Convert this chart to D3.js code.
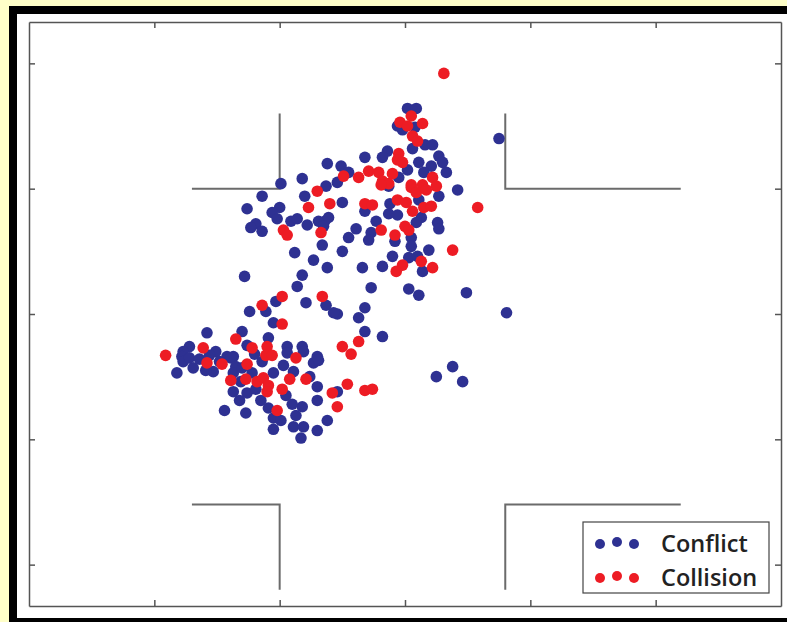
<!DOCTYPE html>
<meta charset="utf-8">
<style>
body { margin: 0; background: #ffffc8; }
svg { display: block; }
.axis path, .axis line { stroke: #555; stroke-width: 1.5px; }
.legend text { font-family: "Open Sans", sans-serif; font-weight: 600; font-size: 23.5px; fill: #222; }
</style>
<svg width="787" height="622"></svg>
<script src="https://d3js.org/d3.v7.min.js"></script>
<script>

// conflict points, [x, y] in metres from intersection centre
var conflict = [
  [0.2,16.4],[0.9,16.4],[7.5,14.0],[-0.6,15.0],[-0.2,14.7],[0.8,14.9],[1.6,13.5],[2.2,13.5],
  [0.6,13.2],[-1.4,13.0],[-1.8,12.5],[-3.2,12.5],[1.1,12.1],[2.1,11.8],[2.7,12.6],[3.0,12.1],
  [3.3,11.3],[1.5,11.3],[0.2,11.5],[-5.1,11.8],[-4.5,11.3],[-0.5,10.9],[4.2,9.9],[-1.3,10.2],
  [2.7,9.4],[-5.0,8.9],[-3.2,8.2],[-1.2,8.8],[1.1,9.1],[-1.3,8.0],[-0.6,7.9],[-2.3,7.4],
  [1.3,7.7],[0.9,7.3],[2.6,7.3],[2.7,6.8],[-3.9,6.8],[-4.5,6.1],[-2.7,6.5],[-2.9,5.9],
  [-0.8,5.8],[0.5,6.1],[0.5,5.4],[-5.0,5.0],[1.9,5.1],[-1.0,4.6],[0.3,4.5],[1.0,4.6],
  [-3.4,3.7],[-1.8,3.8],[1.4,3.4],[-2.7,2.1],[0.3,2.0],[1.1,1.5],[4.9,1.7],[-3.2,0.5],
  [8.1,0.1],[-3.7,-0.3],[-3.2,-1.4],[-1.8,-1.8],[-5.4,0.0],[3.8,-4.2],[2.5,-5.0],[4.6,-5.4],
  [-5.4,-6.2],[-6.2,12.0],[-8.2,10.8],[-9.9,10.4],[-6.3,10.2],[-5.4,10.5],[-11.4,9.4],[-8.0,9.4],
  [-12.6,8.4],[-10.0,8.5],[-10.6,8.1],[-10.2,7.6],[-9.1,7.4],[-8.6,7.6],[-7.8,7.1],[-6.9,7.4],
  [-6.4,7.4],[-6.1,7.7],[-6.5,7.0],[-11.9,7.2],[-12.3,6.9],[-11.4,6.6],[-6.6,5.5],[-8.8,4.9],
  [-7.3,4.3],[-6.2,3.7],[-12.8,3.0],[-8.2,3.1],[-8.6,2.2],[-10.3,1.0],[-11.1,0.2],[-12.4,0.2],
  [-6.3,0.7],[-7.9,0.9],[-5.7,0.1],[-10.5,-0.7],[-13.0,-1.4],[-15.8,-1.5],[-10.9,-1.9],[-12.6,-2.5],
  [-9.4,-2.6],[-9.4,-3.1],[-8.2,-2.6],[-8.1,-3.0],[-17.2,-2.6],[-15.1,-3.0],[-15.6,-3.3],[-17.7,-3.0],
  [-17.8,-3.4],[-14.2,-3.4],[-13.7,-3.4],[-7.0,-3.4],[-17.7,-3.8],[-18.2,-4.7],[-16.9,-4.3],[-17.2,-3.5],
  [-15.3,-4.6],[-15.9,-4.5],[-13.9,-3.5],[-13.5,-4.2],[-13.7,-4.7],[-13.0,-4.3],[-13.1,-5.4],[-13.7,-6.2],
  [-12.6,-6.3],[-13.2,-6.9],[-14.4,-7.7],[-12.7,-7.9],[-11.4,-3.8],[-12.2,-4.7],[-10.5,-4.7],[-11.5,-6.9],
  [-9.7,-4.1],[-8.9,-4.6],[-9.5,-6.5],[-7.6,-5.0],[-7.0,-5.8],[-7.3,-3.9],[-6.9,-3.7],[-8.2,-7.4],
  [-10.9,-7.5],[-10.5,-8.3],[-9.9,-8.5],[-10.5,-9.2],[-8.7,-8.1],[-8.9,-9.0],[-8.1,-9.0],[-8.3,-9.9],
  [-7.0,-9.3],[-6.2,-8.5],[-7.0,-6.9],[-14.8,-3.8],[-16.4,-3.6],[-12.0,-3.2],[-11.9,-6.0],[-9.0,-7.2]
];

// collision points
var collision = [
  [3.1,19.2],[-0.4,15.3],[0.5,15.8],[0.2,15.0],[1.4,15.2],[0.6,14.2],[1.0,13.8],[-0.5,12.8],
  [-0.6,12.3],[-0.2,12.1],[-4.9,11.0],[-3.7,10.9],[-2.9,11.4],[-2.1,11.3],[-1.8,10.6],[-1.3,10.4],
  [-1.0,11.2],[0.5,10.3],[1.4,10.3],[2.2,10.9],[2.5,10.2],[-1.9,10.3],[0.5,10.1],[0.9,9.7],
  [1.7,9.9],[-3.2,8.8],[-2.6,8.7],[-0.6,9.1],[0.1,8.9],[0.6,8.2],[1.5,8.5],[2.1,8.6],
  [5.8,8.5],[-1.9,6.7],[0.0,7.0],[0.3,6.7],[-0.8,6.3],[3.8,5.1],[1.3,4.2],[-0.2,3.9],
  [-0.7,3.4],[2.2,3.7],[-3.7,-2.2],[-5.0,-2.6],[-4.3,-3.2],[-4.6,-5.6],[-3.2,-6.1],[-2.6,-6.0],
  [-5.4,-7.4],[-7.0,9.8],[-6.0,8.8],[-7.7,8.5],[-9.7,6.7],[-9.4,6.3],[-6.7,6.5],[-9.8,1.4],
  [-11.4,0.7],[-6.6,1.4],[-9.8,-0.8],[-13.5,-2.0],[-12.2,-2.7],[-11.0,-2.6],[-11.1,-3.3],[-16.1,-2.7],
  [-19.1,-3.3],[-8.7,-3.5],[-15.8,-3.9],[-14.6,-4.0],[-13.9,-5.3],[-12.6,-4.0],[-12.7,-5.2],[-11.8,-5.4],
  [-11.3,-5.1],[-10.9,-5.7],[-11.0,-6.2],[-10.6,-3.3],[-9.2,-5.2],[-9.8,-6.0],[-7.9,-5.2],[-10.2,-7.7],
  [-5.8,-6.3]
];

// road edges (kerb corners), one polyline per corner
var kerbs = [
  [[-17,10],[-10,10],[-10,16]],
  [[8,16],[8,10],[22,10]],
  [[-17,-15.2],[-10,-15.2],[-10,-22]],
  [[8,-22],[8,-15.2],[22,-15.2]]
];

var xTicks = [-20, -10, 0, 10, 20];
var yTicks = [-20, -10, 0, 10, 20];
var legendItems = [{name: "Conflict", color: "#2e3192"}, {name: "Collision", color: "#ed1c24"}];

var svg = d3.select("svg"),
    width = +svg.attr("width"),
    height = +svg.attr("height");

// slide frame
svg.append("rect").attr("x", 9).attr("y", 6).attr("width", width).attr("height", height).attr("fill", "#000");
svg.append("rect").attr("x", 17).attr("y", 14).attr("width", width).attr("height", 604).attr("fill", "#fff");

var plotLeft = 29, plotTop = 22, plotRight = 781, plotBottom = 606;

var x = d3.scaleLinear().domain([-30, 30]).range([plotLeft, plotRight]);
var y = d3.scaleLinear().domain([-23.3, 23.3]).range([plotBottom, plotTop]);

svg.append("g").attr("class", "axis")
    .attr("transform", "translate(0," + plotBottom + ")")
    .call(d3.axisBottom(x).tickValues(xTicks).tickSize(-6).tickSizeOuter(0).tickFormat(""));
svg.append("g").attr("class", "axis")
    .attr("transform", "translate(0," + plotTop + ")")
    .call(d3.axisTop(x).tickValues(xTicks).tickSize(-6).tickSizeOuter(0).tickFormat(""));
svg.append("g").attr("class", "axis")
    .attr("transform", "translate(" + plotLeft + ",0)")
    .call(d3.axisLeft(y).tickValues(yTicks).tickSize(-6).tickSizeOuter(0).tickFormat(""));
svg.append("g").attr("class", "axis")
    .attr("transform", "translate(" + plotRight + ",0)")
    .call(d3.axisRight(y).tickValues(yTicks).tickSize(-6).tickSizeOuter(0).tickFormat(""));

var line = d3.line().x(function(d) { return x(d[0]); }).y(function(d) { return y(d[1]); });

svg.append("g").selectAll("path")
    .data(kerbs)
    .enter().append("path")
      .attr("d", line)
      .attr("fill", "none")
      .attr("stroke", "#6b6b6b")
      .attr("stroke-width", 2);

svg.append("g").selectAll("circle")
    .data(conflict)
    .enter().append("circle")
      .attr("cx", function(d) { return x(d[0]); })
      .attr("cy", function(d) { return y(d[1]); })
      .attr("r", 5.8)
      .attr("fill", legendItems[0].color);

svg.append("g").selectAll("circle")
    .data(collision)
    .enter().append("circle")
      .attr("cx", function(d) { return x(d[0]); })
      .attr("cy", function(d) { return y(d[1]); })
      .attr("r", 5.8)
      .attr("fill", legendItems[1].color);

// legend
var legend = svg.append("g").attr("class", "legend");
legend.append("rect")
    .attr("x", 583).attr("y", 522).attr("width", 186).attr("height", 71)
    .attr("fill", "#fff").attr("stroke", "#444").attr("stroke-width", 1.2);

var item = legend.selectAll("g")
    .data(legendItems)
    .enter().append("g")
      .attr("transform", function(d, i) { return "translate(0," + (544 + i * 34) + ")"; });

item.selectAll("circle")
    .data(function(d) { return [0, 1, 2].map(function(k) { return {k: k, color: d.color}; }); })
    .enter().append("circle")
      .attr("cx", function(d) { return 600 + d.k * 17; })
      .attr("cy", function(d) { return d.k === 1 ? -2 : 0; })
      .attr("r", 5)
      .attr("fill", function(d) { return d.color; });

item.append("text")
    .attr("x", 661)
    .attr("y", 8)
    .text(function(d) { return d.name; });

</script>
